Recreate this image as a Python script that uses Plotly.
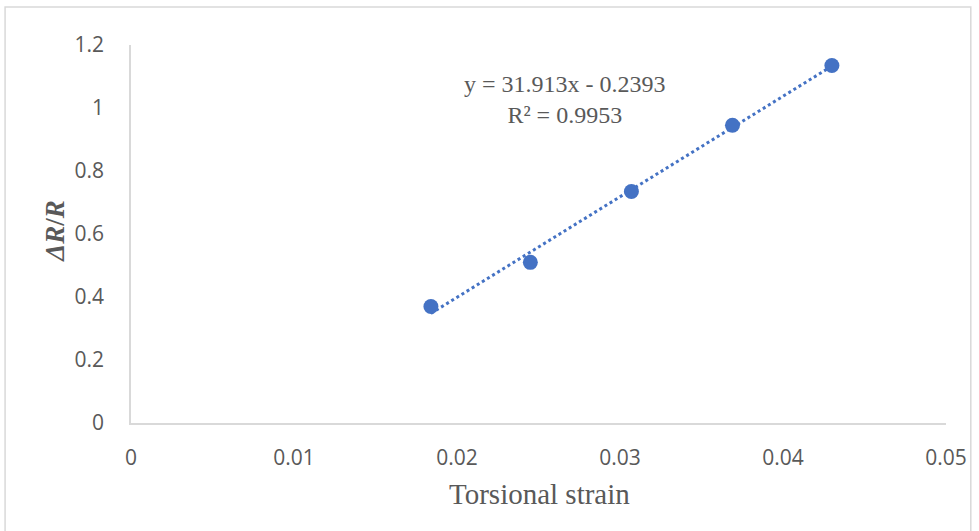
import plotly.graph_objects as go

# Data
strain = [0.0184, 0.0245, 0.0307, 0.0369, 0.0430]
dr_r = [0.370, 0.510, 0.735, 0.945, 1.135]
x_ticks = [0, 0.01, 0.02, 0.03, 0.04, 0.05]
x_tick_labels = ["0", "0.01", "0.02", "0.03", "0.04", "0.05"]
y_ticks = [0, 0.2, 0.4, 0.6, 0.8, 1.0, 1.2]
y_tick_labels = ["0", "0.2", "0.4", "0.6", "0.8", "1", "1.2"]
slope = 31.913
intercept = -0.2393
r2 = 0.9953

blue = "#4472C4"
grey_text = "#595959"
axis_grey = "#D9D9D9"

trend_x = [min(strain), max(strain)]
trend_y = [slope * v + intercept for v in trend_x]

fig = go.Figure()
fig.add_trace(go.Scatter(
    x=trend_x, y=trend_y, mode="lines",
    line=dict(color=blue, width=3, dash="dot"),
    hoverinfo="skip", showlegend=False))
fig.add_trace(go.Scatter(
    x=strain, y=dr_r, mode="markers",
    marker=dict(color=blue, size=15),
    showlegend=False))

W, H = 979, 531
ml, mr, mt, mb = 131, 26, 45, 108
pw = W - ml - mr
ph = H - mt - mb

def px(xp):
    return (xp - ml) / pw

def py(yp):
    return (H - mb - yp) / ph

fig.update_layout(
    width=W, height=H,
    margin=dict(l=ml, r=mr, t=mt, b=mb),
    paper_bgcolor="white", plot_bgcolor="white",
    xaxis=dict(range=[0, 0.05], tickvals=x_ticks, ticktext=x_tick_labels,
               showgrid=False, zeroline=False, showline=True, linecolor=axis_grey,
               linewidth=1.5, ticks="outside", ticklen=15, tickcolor="rgba(0,0,0,0)",
               tickfont=dict(family="Open Sans", size=21, color=grey_text)),
    yaxis=dict(range=[0, 1.2], tickvals=y_ticks, ticktext=y_tick_labels,
               showgrid=False, zeroline=False, showline=True, linecolor=axis_grey,
               linewidth=1.5, ticks="outside", ticklen=21, tickcolor="rgba(0,0,0,0)",
               tickfont=dict(family="Open Sans", size=21, color=grey_text)),
    annotations=[
        dict(text="y = 31.913x - 0.2393<br>R² = 0.9953",
             xref="paper", yref="paper",
             x=px(569), y=py(99),
             xanchor="center", yanchor="middle", align="center",
             showarrow=False,
             font=dict(family="Liberation Serif", size=24, color=grey_text)),
        dict(text="Torsional strain",
             xref="paper", yref="paper",
             x=px(543), y=py(494),
             xanchor="center", yanchor="middle",
             showarrow=False,
             font=dict(family="Liberation Serif", size=29, color=grey_text)),
        dict(text="<b><i>ΔR</i>/<i>R</i></b>",
             xref="paper", yref="paper",
             x=px(54), y=py(231),
             xanchor="center", yanchor="middle", textangle=-90,
             showarrow=False,
             font=dict(family="Liberation Serif", size=27, color=grey_text)),
    ],
    shapes=[
        dict(type="rect", xref="paper", yref="paper",
             x0=px(4), x1=px(978),
             y0=py(545), y1=py(7),
             line=dict(color=axis_grey, width=1.5), fillcolor="rgba(0,0,0,0)",
             layer="below"),
    ],
)

fig.write_html("out.html")
